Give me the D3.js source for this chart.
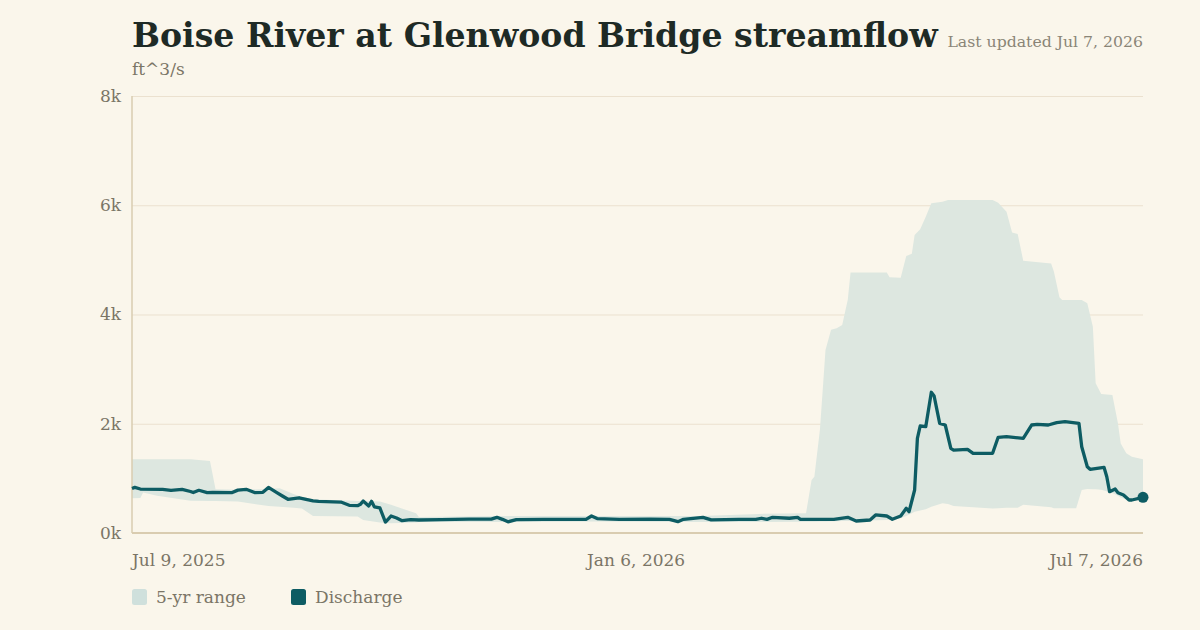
<!DOCTYPE html>
<html>
<head>
<meta charset="utf-8">
<script src="https://cdn.jsdelivr.net/npm/d3@7"></script>
<style>
  html, body { margin: 0; padding: 0; background: #faf6eb; }
  svg { display: block; font-family: Georgia, "DejaVu Serif", serif; }
</style>
</head>
<body>
<div id="chart"></div>
<script>
//Colores fijos
const COLOR_BG = '#faf6eb',
COLOR_RANGE = '#dde7e0',
COLOR_RANGE_KEY = '#cfe0dc',
COLOR_LINE = '#0d5c63',
COLOR_TEXT = '#7a7566',
COLOR_AXIS = '#d9ccb0',
COLOR_GRID = '#ebe1cf';

//Datos: caudal diario (ft^3/s)
const flowDates = ['2025-07-09','2025-07-10','2025-07-12','2025-07-20','2025-07-23','2025-07-27','2025-07-30','2025-07-31',
  '2025-08-02','2025-08-05','2025-08-07','2025-08-14','2025-08-16','2025-08-19','2025-08-22','2025-08-25','2025-08-27','2025-08-30',
  '2025-09-01','2025-09-03','2025-09-07','2025-09-12','2025-09-14','2025-09-22','2025-09-25','2025-09-28','2025-09-29','2025-09-30',
  '2025-10-02','2025-10-03','2025-10-04','2025-10-06','2025-10-08','2025-10-10','2025-10-12','2025-10-14','2025-10-17','2025-10-20','2025-10-28',
  '2025-11-07','2025-11-15','2025-11-17','2025-11-19','2025-11-21','2025-11-24',
  '2025-12-04','2025-12-15','2025-12-19','2025-12-21','2025-12-23','2025-12-31',
  '2026-01-11','2026-01-18','2026-01-21','2026-01-23','2026-01-30',
  '2026-02-02','2026-02-12','2026-02-18','2026-02-20','2026-02-22','2026-02-24',
  '2026-03-02','2026-03-05','2026-03-06','2026-03-18','2026-03-23','2026-03-26','2026-03-31',
  '2026-04-02','2026-04-06','2026-04-08','2026-04-11','2026-04-13','2026-04-14','2026-04-16','2026-04-17','2026-04-18','2026-04-20',
  '2026-04-22','2026-04-23','2026-04-25','2026-04-27','2026-04-29','2026-04-30',
  '2026-05-05','2026-05-07','2026-05-14','2026-05-16','2026-05-19','2026-05-25','2026-05-28','2026-05-30',
  '2026-06-03','2026-06-06','2026-06-09','2026-06-14','2026-06-15','2026-06-17','2026-06-18','2026-06-23','2026-06-24','2026-06-25',
  '2026-06-27','2026-06-28','2026-06-30','2026-07-02','2026-07-03','2026-07-07'];
const flowValues = [815,835,805,800,780,800,760,740,
  782,740,745,740,785,800,740,745,835,740,
  677,617,645,590,580,567,507,500,525,585,
  494,580,480,458,201,311,275,225,245,238,245,
  255,255,287,250,205,245,
  250,250,250,311,265,250,
  255,250,207,250,287,
  240,250,250,270,250,287,
  270,287,251,251,287,220,238,
  330,311,251,311,452,390,787,1734,1959,1946,
  2576,2508,2008,1977,1551,1519,
  1532,1459,1459,1752,1763,1734,1977,1990,
  1977,2019,2038,2008,1580,1214,1166,1203,1031,756,
  805,738,696,604,604,654];

//Datos: rango de 5 años (mín y máx)
const rangeDates = ['2025-07-09','2025-07-12','2025-07-13','2025-07-18','2025-07-30','2025-08-06','2025-08-08','2025-08-16',
  '2025-08-27','2025-08-31','2025-09-05','2025-09-08','2025-09-12','2025-09-28','2025-09-30','2025-10-06','2025-10-10',
  '2025-10-19','2025-10-20','2025-11-18','2025-12-24','2026-01-29','2026-02-19','2026-03-08','2026-03-10','2026-03-11',
  '2026-03-13','2026-03-14','2026-03-15','2026-03-17','2026-03-19','2026-03-21','2026-03-23','2026-03-24','2026-04-06',
  '2026-04-07','2026-04-11','2026-04-13','2026-04-15','2026-04-16','2026-04-18','2026-04-20','2026-04-22','2026-04-26',
  '2026-04-28','2026-04-30','2026-05-14','2026-05-16','2026-05-19','2026-05-21','2026-05-23','2026-05-25','2026-06-04',
  '2026-06-05','2026-06-07','2026-06-08','2026-06-13','2026-06-15','2026-06-17','2026-06-19','2026-06-20','2026-06-22',
  '2026-06-26','2026-06-28','2026-06-29','2026-07-01','2026-07-03','2026-07-07'];
const rangeMin = [635,640,740,680,590,585,585,575,
  495,480,460,450,310,300,240,190,180,
  190,200,200,210,200,200,205,205,205,
  210,210,210,215,215,220,220,220,240,
  245,270,310,360,390,410,435,480,545,
  530,495,450,455,460,460,460,515,470,
  455,455,455,455,785,805,800,800,790,
  730,680,650,615,615,615];
const rangeMax = [1350,1350,1350,1350,1350,1320,800,790,
  805,820,715,660,620,585,585,575,515,
  360,295,310,310,310,350,360,970,1030,
  1890,2620,3350,3720,3750,3810,4270,4770,4770,
  4680,4675,5070,5110,5455,5560,5790,6035,6065,
  6095,6095,6095,6045,5880,5500,5475,4985,4935,
  4785,4315,4265,4265,4265,4205,3775,2740,2545,
  2525,2010,1640,1460,1395,1350];

//Ejes
const yTicks = [0, 2000, 4000, 6000, 8000];
const xTicks = ['2025-07-09', '2026-01-06', '2026-07-07'];

const TITLE = 'Boise River at Glenwood Bridge streamflow',
SUBTITLE = 'Last updated Jul 7, 2026',
UNITS = 'ft^3/s',
LEGEND = ['5-yr range', 'Discharge'];

const parseDate = d3.timeParse('%Y-%m-%d');
const formatDate = d3.timeFormat('%b %-d, %Y');

let flow = flowDates.map(function(d, i) { return { date: parseDate(d), value: flowValues[i] }; });
let range = rangeDates.map(function(d, i) { return { date: parseDate(d), min: rangeMin[i], max: rangeMax[i] }; });

let W = 1200, H = 630;
let margin = {top: 96, right: 57, bottom: 97, left: 132},
    width = W - margin.left - margin.right,
    height = H - margin.top - margin.bottom;

let svg = d3.select('#chart')
    .append('svg')
        .attr('width', W)
        .attr('height', H);

svg.append('rect').attr('width', W).attr('height', H).attr('fill', COLOR_BG);

let g = svg.append('g')
    .attr('transform', 'translate(' + margin.left + ',' + margin.top + ')');

let x = d3.scaleTime()
    .domain([parseDate(xTicks[0]), parseDate(xTicks[2])])
    .range([0, width]);

let y = d3.scaleLinear()
    .domain([0, 8000])
    .range([height, 0]);

//Rejilla + eje Y
let yAxis = function(sel) {
    sel.call(d3.axisLeft(y).tickValues(yTicks).tickSize(0).tickPadding(11)
        .tickFormat(function(d) { return (d / 1000) + 'k'; }));
    sel.select('.domain').remove();
    sel.selectAll('.tick text')
        .attr('fill', COLOR_TEXT)
        .style('font-size', '17px')
        .style('font-family', 'Georgia, "DejaVu Serif", serif');
    sel.selectAll('.tick').append('line')
        .attr('x1', 0)
        .attr('x2', width)
        .attr('stroke', function(d) { return d == 0 ? 'none' : COLOR_GRID; })
        .attr('stroke-width', 1);
}

g.append('g').attr('class', 'yaxis').call(yAxis);

//Banda del rango
g.append('path')
    .datum(range)
    .attr('fill', COLOR_RANGE)
    .attr('d', d3.area()
        .x(function(d) { return x(d.date); })
        .y0(function(d) { return y(d.min); })
        .y1(function(d) { return y(d.max); })
    );

//Ejes
g.append('line')
    .attr('x1', 0).attr('x2', 0)
    .attr('y1', 0).attr('y2', height)
    .attr('stroke', COLOR_AXIS).attr('stroke-width', 1.5);

g.append('line')
    .attr('x1', 0).attr('x2', width)
    .attr('y1', height).attr('y2', height)
    .attr('stroke', COLOR_AXIS).attr('stroke-width', 2);

//Línea de caudal
g.append('path')
    .datum(flow)
    .attr('fill', 'none')
    .attr('stroke', COLOR_LINE)
    .attr('stroke-width', 3.3)
    .attr('stroke-linejoin', 'round')
    .attr('d', d3.line()
        .x(function(d) { return x(d.date); })
        .y(function(d) { return y(d.value); })
    );

let last = flow[flow.length - 1];
g.append('circle')
    .attr('cx', x(last.date))
    .attr('cy', y(last.value))
    .attr('r', 5.5)
    .attr('fill', COLOR_LINE);

//Eje X
g.append('g')
    .attr('transform', 'translate(0,' + height + ')')
    .selectAll('text')
    .data(xTicks)
    .enter()
    .append('text')
        .attr('x', function(d) { return x(parseDate(d)); })
        .attr('y', 33)
        .attr('text-anchor', function(d, i) { return i == 0 ? 'start' : (i == xTicks.length - 1 ? 'end' : 'middle'); })
        .attr('fill', COLOR_TEXT)
        .style('font-size', '17px')
        .text(function(d) { return formatDate(parseDate(d)); });

//Título
let title = svg.append('text')
    .attr('x', margin.left)
    .attr('y', 47)
    .attr('fill', '#1e2a25')
    .style('font-size', '34px')
    .style('font-weight', 'bold')
    .text(TITLE);

//Ajuste del tamaño para ocupar el mismo ancho
let tLen = title.node().getComputedTextLength();
title.style('font-size', (34 * 806 / tLen) + 'px');

svg.append('text')
    .attr('x', W - margin.right)
    .attr('y', 47)
    .attr('text-anchor', 'end')
    .attr('fill', '#8a8577')
    .style('font-size', '15.7px')
    .text(SUBTITLE);

svg.append('text')
    .attr('x', margin.left)
    .attr('y', 75)
    .attr('fill', COLOR_TEXT)
    .style('font-size', '17px')
    .text(UNITS);

//Leyenda
let legend = svg.append('g').attr('transform', 'translate(' + margin.left + ',589)');
let legendX = [0, 159];
let legendColors = [COLOR_RANGE_KEY, COLOR_LINE];

legend.selectAll('rect')
    .data(LEGEND)
    .enter()
    .append('rect')
        .attr('x', function(d, i) { return legendX[i]; })
        .attr('y', 0)
        .attr('width', 15)
        .attr('height', 16)
        .attr('rx', 2.5)
        .attr('fill', function(d, i) { return legendColors[i]; });

legend.selectAll('text')
    .data(LEGEND)
    .enter()
    .append('text')
        .attr('x', function(d, i) { return legendX[i] + 24; })
        .attr('y', 14)
        .attr('fill', COLOR_TEXT)
        .style('font-size', '17px')
        .text(function(d) { return d; });
</script>
</body>
</html>
